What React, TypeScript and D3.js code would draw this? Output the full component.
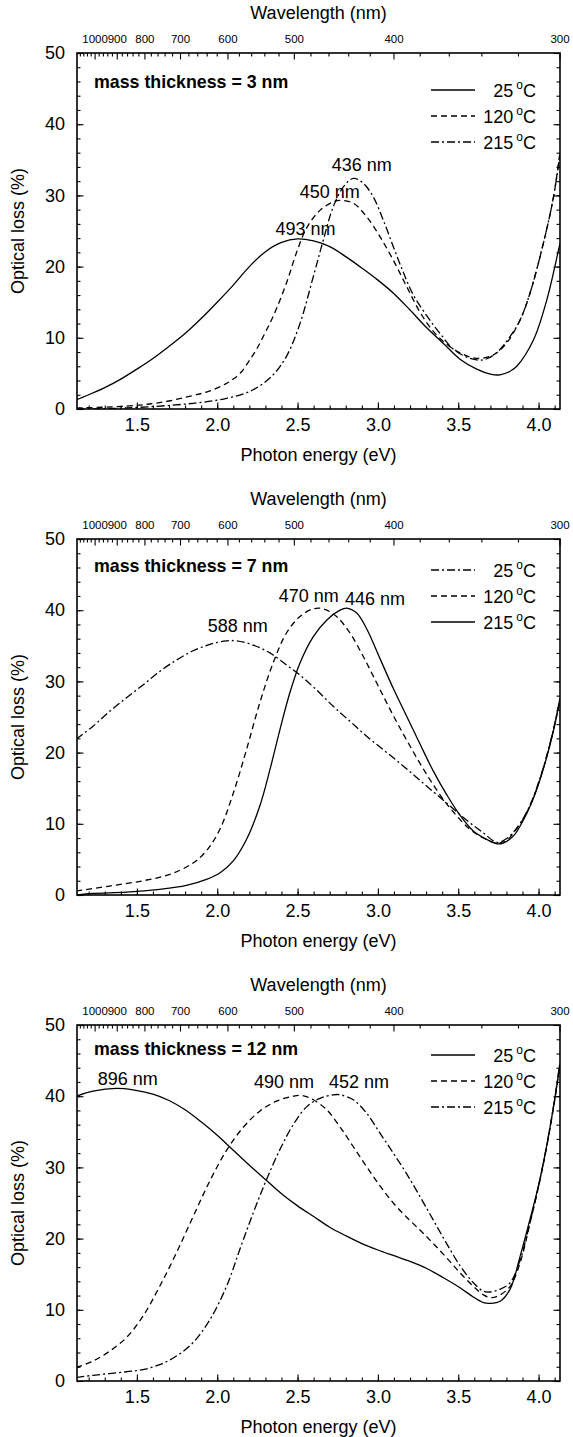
import * as d3 from "d3"
import { useEffect, useRef } from "react"

const width = 573
const height = 1437
const plotLeft = 77
const plotRight = 560
const panelTops = [53, 539, 1025]
const panelHeight = 356

// photon energy axis spans 1100 nm .. 300 nm
const energyDomain: [number, number] = [1240 / 1100, 1240 / 300]
const energyLabels = [1.5, 2.0, 2.5, 3.0, 3.5, 4.0]
const wavelengthLabels = [1000, 900, 800, 700, 600, 500, 400, 300]
const lossLabels = [0, 10, 20, 30, 40, 50]

// [photon energy (eV), optical loss (%)]
// mass thickness = 3 nm
const t3At25: [number, number][] = [
    [1.125, 1.3], [1.2, 2.0], [1.3, 3.0], [1.4, 4.2], [1.5, 5.6], [1.6, 7.1], [1.7, 8.8],
    [1.8, 10.6], [1.9, 12.7], [2.0, 15.0], [2.1, 17.4], [2.2, 20.0], [2.3, 22.1], [2.4, 23.4],
    [2.5, 23.9], [2.6, 23.6], [2.7, 22.8], [2.8, 21.4], [2.9, 19.8], [3.0, 18.1], [3.1, 16.2],
    [3.2, 13.9], [3.304, 11.4], [3.408, 9.2], [3.511, 7.0], [3.615, 5.6], [3.7, 4.9], [3.76, 4.8],
    [3.823, 5.3], [3.864, 6.0], [3.968, 9.7], [4.051, 15.3], [4.124, 22.3], [4.133, 23.2],
]
const t3At120: [number, number][] = [
    [1.125, 0.15], [1.435, 0.4], [1.642, 0.9], [1.85, 1.9], [1.95, 2.5], [2.05, 3.5], [2.1, 4.2],
    [2.15, 5.2], [2.2, 6.8], [2.25, 8.6], [2.3, 10.8], [2.35, 13.1], [2.431, 17.7], [2.494, 22.0],
    [2.556, 25.4], [2.639, 27.9], [2.722, 29.1], [2.764, 29.3], [2.847, 28.9], [2.93, 27.0],
    [3.013, 24.2], [3.096, 20.9], [3.179, 17.2], [3.262, 13.6], [3.345, 10.9], [3.428, 9.1],
    [3.511, 7.9], [3.615, 7.1], [3.719, 7.6], [3.802, 9.3], [3.885, 12.5], [3.947, 16.3],
    [4.03, 23.3], [4.093, 29.8], [4.133, 36.0],
]
const t3At215: [number, number][] = [
    [1.125, 0.0], [1.435, 0.15], [1.85, 0.8], [2.058, 1.5], [2.224, 2.7], [2.348, 4.8],
    [2.431, 7.4], [2.515, 12.0], [2.598, 18.6], [2.66, 23.7], [2.722, 28.4], [2.785, 31.2],
    [2.847, 32.4], [2.909, 31.7], [2.971, 29.8], [3.034, 26.5], [3.096, 22.8], [3.158, 19.2],
    [3.221, 16.0], [3.304, 13.1], [3.387, 10.6], [3.47, 8.4], [3.574, 7.1], [3.656, 6.9],
    [3.739, 7.9], [3.823, 10.2], [3.885, 12.5], [3.947, 16.3], [4.03, 23.3], [4.093, 29.8],
    [4.133, 35.8],
]

// mass thickness = 7 nm
const t7At25: [number, number][] = [
    [1.123, 21.9], [1.227, 23.7], [1.331, 25.8], [1.435, 27.7], [1.538, 29.5], [1.642, 31.4],
    [1.746, 33.0], [1.85, 34.3], [1.954, 35.2], [2.058, 35.7], [2.12, 35.7], [2.224, 35.1],
    [2.328, 34.0], [2.431, 32.3], [2.515, 30.9], [2.618, 28.8], [2.722, 26.5], [2.826, 24.4],
    [2.93, 22.3], [3.034, 20.4], [3.138, 18.5], [3.241, 16.5], [3.345, 14.5], [3.449, 12.5],
    [3.553, 10.5], [3.657, 8.7], [3.74, 7.4], [3.8, 7.9], [3.85, 9.0], [3.9, 10.6],
    [3.95, 12.8], [4.0, 15.8], [4.05, 19.5], [4.1, 24.0], [4.133, 27.5],
]
const t7At120: [number, number][] = [
    [1.123, 0.56], [1.331, 1.26], [1.538, 2.0], [1.705, 2.9], [1.85, 4.5], [1.933, 6.2],
    [2.016, 9.2], [2.1, 14.3], [2.182, 20.4], [2.265, 27.0], [2.348, 32.6], [2.431, 36.8],
    [2.515, 39.1], [2.598, 40.2], [2.66, 40.2], [2.743, 39.1], [2.826, 36.8], [2.909, 33.5],
    [2.992, 29.8], [3.075, 26.1], [3.158, 22.6], [3.241, 19.3], [3.324, 16.2], [3.408, 13.4],
    [3.491, 11.1], [3.574, 9.2], [3.657, 8.0], [3.74, 7.3], [3.802, 7.7], [3.85, 8.9],
    [3.9, 10.5], [3.95, 12.7], [4.0, 15.7], [4.05, 19.4], [4.1, 23.9], [4.133, 27.4],
]
const t7At215: [number, number][] = [
    [1.123, 0.0], [1.227, 0.23], [1.435, 0.4], [1.642, 0.8], [1.808, 1.35], [1.933, 2.2],
    [2.016, 3.1], [2.1, 4.8], [2.182, 7.8], [2.265, 12.5], [2.328, 17.6], [2.39, 23.2],
    [2.452, 28.4], [2.515, 32.6], [2.598, 36.3], [2.681, 38.6], [2.764, 40.0], [2.805, 40.3],
    [2.868, 39.6], [2.93, 37.4], [3.013, 33.2], [3.096, 29.0], [3.179, 25.1], [3.262, 21.2],
    [3.345, 17.4], [3.428, 14.1], [3.511, 11.2], [3.594, 9.0], [3.678, 7.8], [3.74, 7.2],
    [3.78, 7.3], [3.844, 8.3], [3.9, 10.3], [3.95, 12.6], [4.0, 15.6], [4.05, 19.3],
    [4.1, 23.8], [4.133, 27.6],
]

// mass thickness = 12 nm
const t12At25: [number, number][] = [
    [1.123, 40.0], [1.227, 40.7], [1.372, 41.1], [1.476, 40.9], [1.6, 40.3], [1.7, 39.4],
    [1.8, 38.1], [1.9, 36.4], [2.0, 34.5], [2.1, 32.4], [2.2, 30.3], [2.3, 28.3], [2.4, 26.3],
    [2.5, 24.6], [2.6, 23.1], [2.7, 21.6], [2.8, 20.4], [2.9, 19.3], [3.0, 18.4], [3.1, 17.6],
    [3.2, 16.8], [3.304, 15.8], [3.408, 14.5], [3.511, 13.1], [3.594, 11.8], [3.657, 11.0],
    [3.698, 10.9], [3.761, 11.2], [3.823, 12.9], [3.885, 17.5], [3.95, 23.0], [4.0, 27.5],
    [4.05, 33.0], [4.1, 39.5], [4.133, 44.5],
]
const t12At120: [number, number][] = [
    [1.123, 1.9], [1.227, 2.8], [1.331, 4.2], [1.435, 6.1], [1.538, 9.1], [1.642, 13.3],
    [1.746, 18.0], [1.85, 23.1], [1.954, 28.1], [2.058, 32.4], [2.161, 35.6], [2.265, 37.9],
    [2.369, 39.3], [2.473, 40.0], [2.53, 40.1], [2.598, 39.5], [2.681, 38.1], [2.764, 35.7],
    [2.847, 32.9], [2.93, 30.1], [3.013, 27.4], [3.096, 25.0], [3.179, 23.0], [3.262, 21.2],
    [3.345, 19.3], [3.428, 17.3], [3.511, 15.2], [3.594, 13.3], [3.657, 12.1], [3.709, 11.7],
    [3.761, 12.1], [3.823, 13.3], [3.885, 16.6], [3.95, 22.5], [4.0, 27.3], [4.05, 32.8],
    [4.1, 39.4], [4.133, 44.6],
]
const t12At215: [number, number][] = [
    [1.123, 0.5], [1.227, 0.8], [1.435, 1.3], [1.538, 1.6], [1.642, 2.3], [1.746, 3.5],
    [1.85, 5.4], [1.954, 8.6], [2.058, 13.3], [2.141, 18.5], [2.224, 23.6], [2.307, 28.3],
    [2.39, 32.5], [2.473, 36.0], [2.556, 38.5], [2.639, 39.7], [2.722, 40.2], [2.764, 40.2],
    [2.847, 39.5], [2.93, 37.6], [3.013, 34.8], [3.096, 32.0], [3.179, 29.1], [3.262, 25.9],
    [3.345, 22.6], [3.428, 19.3], [3.511, 16.2], [3.594, 13.8], [3.657, 12.6], [3.698, 12.5],
    [3.761, 12.9], [3.823, 13.8], [3.885, 17.0], [3.95, 22.6], [4.0, 27.4], [4.05, 33.0],
    [4.1, 39.6], [4.133, 44.8],
]

const temperatures = ["25", "120", "215"]

// peak labels: [text, energy, loss] at the centre of the label
const t3Peaks: [string, number, number][] = [["436 nm", 2.899, 34.3], ["450 nm", 2.701, 30.5], ["493 nm", 2.55, 25.4]]
const t7Peaks: [string, number, number][] = [["470 nm", 2.57, 42.1], ["446 nm", 2.982, 41.6], ["588 nm", 2.128, 37.8]]
const t12Peaks: [string, number, number][] = [["896 nm", 1.443, 42.5], ["490 nm", 2.415, 42.0], ["452 nm", 2.882, 42.0]]

type Style = "solid" | "dash" | "dashdot"
const dashes: Record<Style, string | null> = { solid: null, dash: "6,4", dashdot: "8,3,2,3" }

const panels = [
    { title: "mass thickness = 3 nm", series: [t3At25, t3At120, t3At215], styles: ["solid", "dash", "dashdot"] as Style[], peaks: t3Peaks, titleTop: 34.5, legendTop: 37 },
    { title: "mass thickness = 7 nm", series: [t7At25, t7At120, t7At215], styles: ["dashdot", "dash", "solid"] as Style[], peaks: t7Peaks, titleTop: 32.5, legendTop: 31 },
    { title: "mass thickness = 12 nm", series: [t12At25, t12At120, t12At215], styles: ["solid", "dash", "dashdot"] as Style[], peaks: t12Peaks, titleTop: 29.5, legendTop: 30 },
]

export default function App() {
    const svgRef = useRef<SVGSVGElement>(null)

    useEffect(() => {
        if (!svgRef.current) return
        const svg = d3.select(svgRef.current)
        svg.selectAll("*").remove()

        const x = d3.scaleLinear().domain(energyDomain).range([plotLeft, plotRight])
        const wl = (nm: number) => x(1240 / nm)

        panels.forEach((p, pi) => {
            const top = panelTops[pi]
            const bottom = top + panelHeight
            const y = d3.scaleLinear().domain([0, 50]).range([bottom, top])
            const g = svg.append("g")

            const clipId = `clip${pi}`
            g.append("clipPath").attr("id", clipId)
                .append("rect").attr("x", plotLeft).attr("y", top)
                .attr("width", plotRight - plotLeft).attr("height", panelHeight)

            // bottom axis (photon energy)
            const bx = g.append("g").attr("transform", `translate(0,${bottom})`)
            bx.call(d3.axisBottom(x).tickValues(x.ticks(30)).tickSizeInner(-3.5).tickSizeOuter(0).tickFormat(() => ""))
            bx.append("g").call(d3.axisBottom(x).tickValues(energyLabels).tickSizeInner(-6.5).tickSizeOuter(0)
                .tickPadding(9).tickFormat(d3.format(".1f")))

            // top axis (wavelength)
            const tx = g.append("g").attr("transform", `translate(0,${top})`)
            const minorWl = d3.range(1100, 299, -20).filter((d) => d % 100 !== 0)
            minorWl.forEach((d) => {
                tx.append("line").attr("x1", wl(d)).attr("x2", wl(d)).attr("y1", 0).attr("y2", 3.5)
            })
            wavelengthLabels.forEach((d) => {
                tx.append("line").attr("x1", wl(d)).attr("x2", wl(d)).attr("y1", 0).attr("y2", 6.5)
                tx.append("text").attr("x", wl(d)).attr("y", -10.5).attr("text-anchor", "middle")
                    .attr("font-size", 11.5).text(d)
            })
            tx.selectAll("line").attr("stroke", "#000").attr("stroke-width", 1.1)

            // left and right axes
            const ly = g.append("g").attr("transform", `translate(${plotLeft},0)`)
            ly.call(d3.axisLeft(y).tickValues(y.ticks(25)).tickSizeInner(-3.5).tickSizeOuter(0).tickFormat(() => ""))
            ly.append("g").call(d3.axisLeft(y).tickValues(lossLabels).tickSizeInner(-6.5).tickSizeOuter(0).tickPadding(12))
            const ry = g.append("g").attr("transform", `translate(${plotRight},0)`)
            ry.call(d3.axisRight(y).tickValues(y.ticks(25)).tickSizeInner(-3.5).tickSizeOuter(0).tickFormat(() => ""))
            ry.append("g").call(d3.axisRight(y).tickValues(lossLabels).tickSizeInner(-6.5).tickSizeOuter(0).tickFormat(() => ""))

            g.selectAll(".domain").remove()
            g.selectAll(".tick line").attr("stroke-width", 1.1)
            g.selectAll(".tick text").attr("font-size", 18).attr("font-family", "Liberation Sans, Arial, sans-serif")

            // frame
            g.append("rect").attr("x", plotLeft).attr("y", top)
                .attr("width", plotRight - plotLeft).attr("height", panelHeight)
                .attr("fill", "none").attr("stroke", "#000").attr("stroke-width", 1.6)

            // titles
            g.append("text").attr("x", (plotLeft + plotRight) / 2).attr("y", top - 34.5)
                .attr("text-anchor", "middle").attr("font-size", 18).text("Wavelength (nm)")
            g.append("text").attr("x", (plotLeft + plotRight) / 2).attr("y", bottom + 52)
                .attr("text-anchor", "middle").attr("font-size", 18).text("Photon energy (eV)")
            g.append("text").attr("transform", `translate(24,${(top + bottom) / 2}) rotate(-90)`)
                .attr("text-anchor", "middle").attr("font-size", 18).text("Optical loss (%)")
            g.append("text").attr("x", 94).attr("y", top + p.titleTop)
                .attr("font-size", 17.8).attr("font-weight", "bold").text(p.title)

            // curves
            const line = d3.line<[number, number]>()
                .x((d) => x(d[0])).y((d) => y(d[1]))
                .curve(d3.curveCatmullRom.alpha(0.5))
            p.series.forEach((s, si) => {
                g.append("path").datum(s).attr("d", line)
                    .attr("clip-path", `url(#${clipId})`)
                    .attr("fill", "none").attr("stroke", "#000").attr("stroke-width", 1.3)
                    .attr("stroke-dasharray", dashes[p.styles[si]])
            })

            // peak labels
            p.peaks.forEach(([t, e, v]) => {
                g.append("text").attr("x", x(e)).attr("y", y(v) + 6.5)
                    .attr("text-anchor", "middle").attr("font-size", 18).text(t)
            })

            // legend
            temperatures.forEach((t, i) => {
                const ly0 = top + p.legendTop + i * 26
                g.append("line").attr("x1", 431).attr("x2", 475).attr("y1", ly0).attr("y2", ly0)
                    .attr("stroke", "#000").attr("stroke-width", 1.3)
                    .attr("stroke-dasharray", dashes[p.styles[i]])
                const txt = g.append("text").attr("x", 536).attr("y", ly0 + 6.5)
                    .attr("text-anchor", "end").attr("font-size", 18)
                txt.append("tspan").text(t)
                txt.append("tspan").attr("dx", 3).attr("dy", -8).attr("font-size", 12).text("o")
                txt.append("tspan").attr("dy", 8).text("C")
            })
        })
    }, [])

    return (
        <svg
            ref={svgRef}
            width={width}
            height={height}
            viewBox={`0 0 ${width} ${height}`}
            style={{ position: "absolute", left: 0, top: 0, background: "#fff" }}
            fontFamily="Liberation Sans, Arial, sans-serif"
        />
    )
}
